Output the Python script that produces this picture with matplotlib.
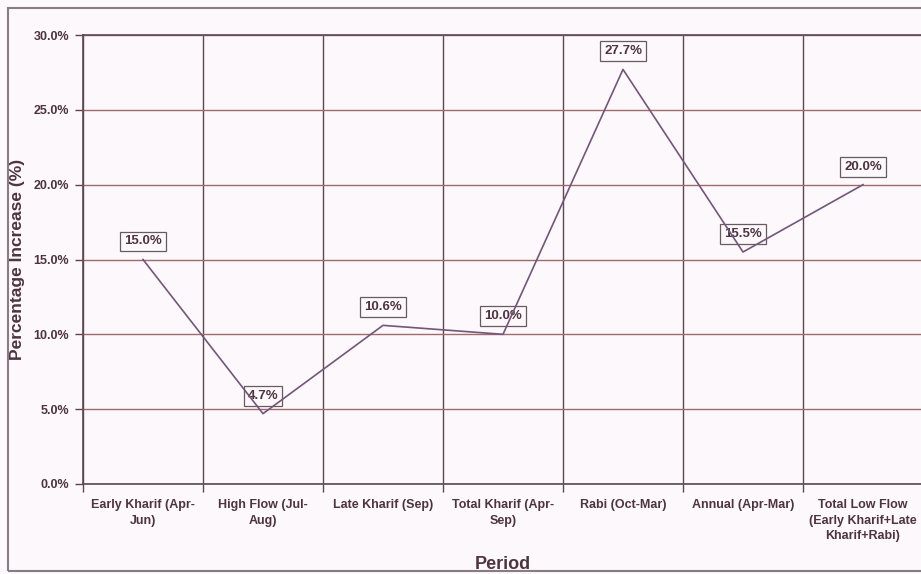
import numpy as np
import matplotlib.pyplot as plt
from matplotlib.patches import Rectangle

plt.rcParams['font.family'] = ['Liberation Sans', 'DejaVu Sans']
plt.rcParams['font.weight'] = 'bold'

# data
periods = ["Early Kharif (Apr-\nJun)", "High Flow (Jul-\nAug)", "Late Kharif (Sep)",
           "Total Kharif (Apr-\nSep)", "Rabi (Oct-Mar)", "Annual (Apr-Mar)",
           "Total Low Flow\n(Early Kharif+Late\nKharif+Rabi)"]
increase = [15.0, 4.7, 10.6, 10.0, 27.7, 15.5, 20.0]
yticks = [0, 5, 10, 15, 20, 25, 30]

bg = '#fcf8fb'
txt = '#4e3440'
grid_h = '#a06a6e'
grid_v = '#5e4650'
line_c = '#73567a'

fig = plt.figure(figsize=(9.21, 5.74), dpi=100, facecolor=bg)
ax = fig.add_axes([83/921, 1-484/574, 840/921, 449/574])
ax.set_facecolor(bg)

x = np.arange(len(increase))
ax.plot(x, increase, color=line_c, lw=1.2, zorder=4)
for xi, v in zip(x, increase):
    ax.annotate(f"{v:.1f}%", (xi, v), xytext=(0, 18), textcoords='offset pixels',
                ha='center', va='center', fontsize=9.5, fontweight='bold', color=txt, zorder=3,
                bbox=dict(boxstyle='square,pad=0.3', fc=bg, ec='#6a5a60', lw=0.9))

ax.set_xlim(-0.5, len(increase)-0.5)
ax.set_ylim(0, 30)
ax.set_yticks(yticks)
ax.set_yticklabels([f"{t:.1f}%" for t in yticks], fontsize=9, fontweight='bold', color=txt)
ax.set_xticks(x)
ax.set_xticklabels(periods, fontsize=9, fontweight='bold', color=txt, linespacing=1.4)
ax.set_xticks(np.arange(-0.5, len(increase)), minor=True)
ax.tick_params(axis='x', which='major', length=0, pad=11)
ax.tick_params(axis='x', which='minor', length=6, color=grid_v, width=1)
ax.tick_params(axis='y', length=6, color=grid_v, width=1, pad=4)

ax.grid(axis='y', which='major', color=grid_h, lw=1)
ax.grid(axis='x', which='minor', color=grid_v, lw=1)
ax.set_axisbelow(True)
for s in ax.spines.values():
    s.set_color(grid_v)
    s.set_linewidth(1.2)

ax.set_ylabel("Percentage Increase (%)", fontsize=12.5, fontweight='bold', color=txt, labelpad=6)
ax.set_xlabel("Period", fontsize=13, fontweight='bold', color=txt, labelpad=10)

fig.patches.append(Rectangle((8/921, 3/574), 1.2, 563/574, transform=fig.transFigure,
                             fill=False, ec='#8a7a85', lw=1.5))

fig.savefig('out.png', dpi=100, facecolor=bg)
